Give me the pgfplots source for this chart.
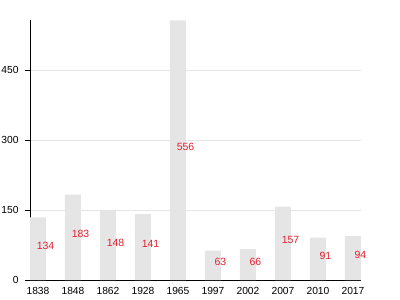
\documentclass[border=0pt]{standalone}
\usepackage{pgfplots}
\pgfplotsset{compat=1.18}
\usepackage{pgfplotstable}
\usepackage{fontspec}
\setmainfont{Liberation Sans}
\pgfplotstableread{
x v
0 134
1 183
2 148
3 141
4 556
5 63
6 66
7 157
8 91
9 94
}\data
\begin{document}
\begin{tikzpicture}
\begin{axis}[
  scale only axis,
  width=331bp, height=260bp,
  xmin=-0.2286, xmax=9.2286,
  ymin=0, ymax=557,
  axis x line=bottom, axis y line=left,
  axis line style={-, black, line width=0.8pt},
  xtick={0,...,9},
  xticklabels={1838,1848,1862,1928,1965,1997,2002,2007,2010,2017},
  ytick={0,150,300,450},
  ymajorgrids,
  grid style={draw=black!10, line width=0.6pt},
  major x tick style={draw=none},
  major y tick style={black, line width=0.6pt},
  tick align=outside,
  major tick length=5bp,
  /pgf/number format/assume math mode=true,
  tick label style={font=\fontsize{10.3}{11}\selectfont, text=black},
  xticklabel style={yshift=1.5bp},
  yticklabel style={xshift=-3bp},
  clip=false,
]
\addplot[ybar, bar width=16/35, bar shift=0pt, fill=black!10, draw=none] table[x=x, y=v] {\data};
\addplot[draw=none, mark=none, nodes near coords, point meta=explicit,
  every node near coord/.style={anchor=center, xshift=7.5bp, yshift=3bp, text={rgb,255:red,230;green,30;blue,45}, font=\fontsize{10.5}{11}\selectfont},
  /pgf/number format/assume math mode=true]
  table[x=x, y expr=\thisrow{v}/2, meta=v] {\data};
\end{axis}
\pgfresetboundingbox
\useasboundingbox (-30bp,-20bp) rectangle (370bp,280bp);
\end{tikzpicture}
\end{document}
